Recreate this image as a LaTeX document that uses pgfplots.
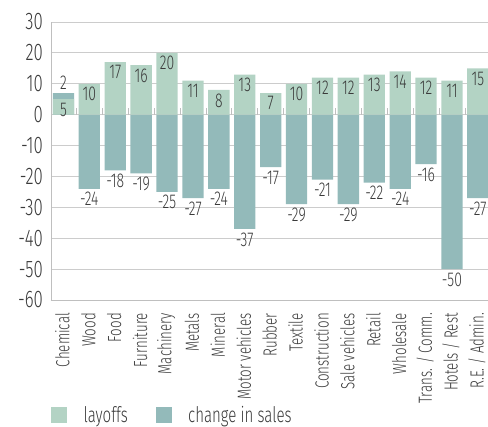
\documentclass[border=0pt]{standalone}
\usepackage{pgfplots}
\pgfplotsset{compat=1.18}
\usepackage{pgfplotstable}
\usepackage{fontspec}
\setmainfont{Fira Sans Light}[FakeStretch=0.7]
\definecolor{layc}{HTML}{B3D3C4}
\definecolor{chc}{HTML}{93BABA}
\definecolor{txt}{HTML}{3A3A3A}
\pgfplotstableread{
x layoffs change
0 5 2
1 10 -24
2 17 -18
3 16 -19
4 20 -25
5 11 -27
6 8 -24
7 13 -37
8 7 -17
9 10 -29
10 12 -21
11 12 -29
12 13 -22
13 14 -24
14 12 -16
15 11 -50
16 15 -27
}\datatab
\begin{document}
\begin{tikzpicture}
\begin{axis}[name=ax, scale only axis, width=437pt, height=278pt,
  xmin=-0.48, xmax=16.39, ymin=-60, ymax=30,
  ytick={-60,-50,...,30},
  xtick={0,...,16},
  xticklabels={Chemical,Wood,Food,Furniture,Machinery,Metals,Mineral,Motor vehicles,Rubber,Textile,Construction,Sale vehicles,Retail,Wholesale,Trans. / Comm.,Hotels / Rest,R.E. / Admin.},
  x tick label style={rotate=90, anchor=east, font=\fontsize{19}{21}\selectfont, text=txt, inner sep=0pt, xshift=-13pt, yshift=1pt},
  y tick label style={font=\fontsize{24}{26}\selectfont, text=txt, inner sep=0pt, xshift=-8pt},
  /pgf/number format/assume math mode=true,
  axis x line*=bottom, axis y line*=left,
  axis line style={gray!50, -, line width=0.8pt},
  major tick length=0pt,
  ymajorgrids, grid style={gray!40, line width=0.8pt},
  ybar, bar width=21.3pt, bar shift=0pt,
  legend style={at={(axis description cs:0,0)}, anchor=west, yshift=-115pt, draw=none, fill=none, inner sep=0pt,
    font=\fontsize{21.5}{24}\selectfont, text=txt,
    /tikz/every odd column/.append style={column sep=15pt},
    /tikz/every even column/.append style={column sep=26pt}},
  legend columns=2,
  nodes near coords={\pgfmathparse{\pgfplotspointmeta<0}\ifdim\pgfmathresult pt>0.5pt\textendash\kern0.5pt\fi\pgfmathparse{abs(\pgfplotspointmeta)}\pgfmathprintnumber{\pgfmathresult}},
]
\addlegendimage{legend image code/.code={\fill[layc] (0pt,-7.5pt) rectangle (15pt,7.5pt);}}
\addlegendentry{layoffs}
\addlegendimage{legend image code/.code={\fill[chc] (0pt,-7.5pt) rectangle (15pt,7.5pt);}}
\addlegendentry{change in sales}
\pgfplotsinvokeforeach{0,...,15}{\draw[gray!50, line width=0.8pt] (axis cs:#1.5,0) -- (axis cs:#1.5,2);}
\addplot[fill=chc, draw=none, nodes near coords, point meta=explicit,
  nodes near coords style={font=\fontsize{20}{22}\selectfont, text=txt}]
  table[x=x, y expr={ifthenelse(\thisrow{change}>0, \thisrow{change}+\thisrow{layoffs}, \thisrow{change})}, meta=change]{\datatab};
\addplot[fill=layc, draw=none, nodes near coords, point meta=explicit,
  nodes near coords style={font=\fontsize{20}{22}\selectfont, text=txt},
  every node near coord/.append style={anchor=north}]
  table[x=x, y=layoffs, meta=layoffs]{\datatab};
\end{axis}
\pgfresetboundingbox
\path ([xshift=-51pt,yshift=-127pt]ax.south west) rectangle ([yshift=22pt]ax.north east);
\end{tikzpicture}
\end{document}
